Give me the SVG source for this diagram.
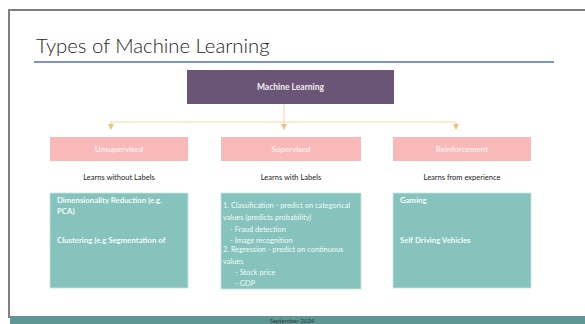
<svg xmlns="http://www.w3.org/2000/svg" width="585" height="324" viewBox="0 0 585 324">
<defs>
<marker id="ah" viewBox="0 0 6 6" refX="5" refY="3" markerWidth="5" markerHeight="5" orient="auto">
<path d="M0,0 L6,3 L0,6 z" fill="#f2c27d"/>
</marker>
<style>
.cat{fill:#f8b9b8;}
.catt{font-family:Lato,"Open Sans",sans-serif;font-size:8px;font-weight:bold;fill:#fdeeee;text-anchor:middle;}
.sub{font-family:Lato,"Open Sans",sans-serif;font-size:7.5px;fill:#222;text-anchor:middle;}
.box{fill:#85c3bc;stroke:#c9e6e2;stroke-width:0.8;}
.bt{font-family:Lato,"Open Sans",sans-serif;font-size:7.8px;font-weight:bold;fill:#f4fbfa;}
.st{font-family:Lato,"Open Sans",sans-serif;font-size:7.4px;fill:#f4fbfa;}
.con{stroke:#f7d9ad;stroke-width:1.2;fill:none;}
</style>
</defs>
<rect width="585" height="324" fill="#ffffff"/>
<line x1="8" y1="10" x2="585" y2="10" stroke="#808080" stroke-width="2"/>
<line x1="9" y1="10" x2="9" y2="318" stroke="#808080" stroke-width="2"/>
<text x="36" y="53" font-family="Lato,'Open Sans',sans-serif" font-size="20.3" font-weight="300" fill="#262626">Types of Machine Learning</text>
<line x1="34" y1="62" x2="554" y2="62" stroke="#4a72c4" stroke-width="1.3"/>
<g id="connectors">
<line class="con" x1="284" y1="104" x2="284" y2="122"/>
<line class="con" x1="110" y1="122" x2="456" y2="122"/>
<line class="con" x1="284" y1="122" x2="284" y2="129" marker-end="url(#ah)"/>
<line class="con" x1="111" y1="122" x2="111" y2="129" marker-end="url(#ah)"/>
<line class="con" x1="456" y1="122" x2="456" y2="129" marker-end="url(#ah)"/>
</g>
<g id="ml">
<rect x="187" y="70" width="207" height="34" fill="#6b5577"/>
<text x="290.5" y="90" font-family="Lato,'Open Sans',sans-serif" font-size="8.5" font-weight="bold" fill="#f1ecf3" text-anchor="middle">Machine Learning</text>
</g>
<g id="unsupervised">
<rect class="cat" x="50" y="137" width="138" height="24"/>
<text class="catt" x="119" y="152">Unsupervised</text>
<text class="sub" x="119" y="180">Learns without Labels</text>
<rect class="box" x="50" y="193" width="138" height="95"/>
<text class="bt" x="57" y="203">Dimensionality Reduction (e.g.</text>
<text class="bt" x="57" y="214">PCA)</text>
<text class="bt" x="57" y="243">Clustering (e.g Segmentation of</text>
</g>
<g id="supervised">
<rect class="cat" x="221" y="137" width="140" height="24"/>
<text class="catt" x="291" y="152">Supervised</text>
<text class="sub" x="291" y="180">Learns with Labels</text>
<rect class="box" x="221" y="193" width="140" height="96"/>
<text class="st" x="223" y="208">1. Classification - predict on categorical</text>
<text class="st" x="223" y="220">values (predicts probability)</text>
<text class="st" x="230" y="232">- Fraud detection</text>
<text class="st" x="230" y="243">- Image recognition</text>
<text class="st" x="223" y="252">2. Regression  - predict on continuous</text>
<text class="st" x="223" y="264">values</text>
<text class="st" x="235" y="275">- Stock price</text>
<text class="st" x="235" y="286">- GDP</text>
</g>
<g id="reinforcement">
<rect class="cat" x="393" y="137" width="138" height="24"/>
<text class="catt" x="462" y="152">Reinforcement</text>
<text class="sub" x="462" y="180">Learns from experience</text>
<rect class="box" x="393" y="193" width="138" height="95"/>
<text class="bt" x="400" y="203">Gaming</text>
<text class="bt" x="400" y="243">Self Driving Vehicles</text>
</g>
<rect x="10" y="316" width="575" height="8" fill="#5e9794"/>
<text x="292" y="323" font-family="Lato,'Open Sans',sans-serif" font-size="6" fill="#2a3b3a" text-anchor="middle">September-2024</text>
</svg>
